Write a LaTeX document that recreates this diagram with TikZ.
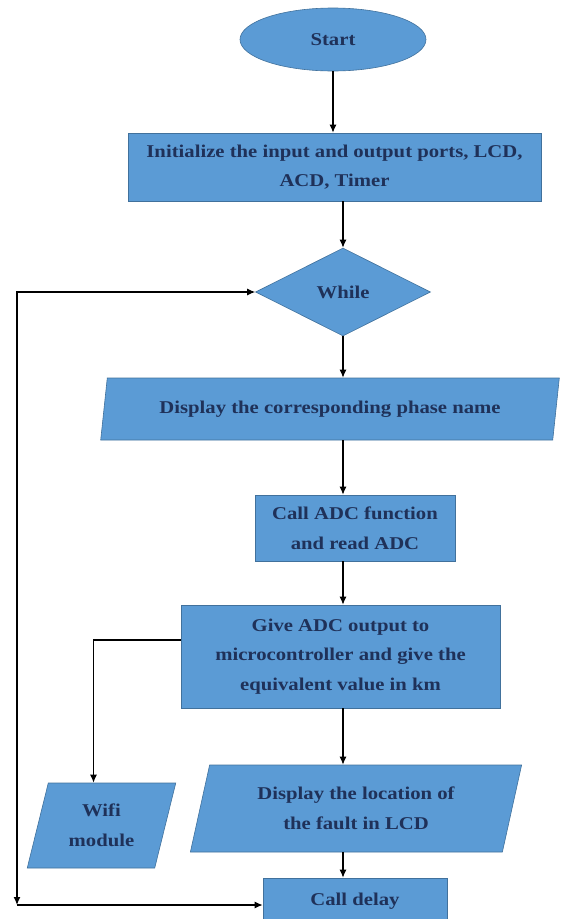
\documentclass[tikz,border=0pt]{standalone}
\usepackage{fontspec}
\setmainfont{Liberation Serif}[FakeStretch=1.15]
\usepackage{tikz}
\usetikzlibrary{shapes.geometric,arrows.meta}
\definecolor{boxblue}{HTML}{5B9BD5}
\definecolor{boxedge}{HTML}{41719C}
\definecolor{boxtext}{HTML}{1F3159}

\begin{document}
\begin{tikzpicture}[x=1pt,y=-1pt,>={Latex[length=8pt,width=7pt]},
  every node/.style={fill=boxblue,draw=boxedge,line width=0.6pt,inner sep=0pt,
    text=boxtext,align=center,font=\fontsize{18}{29.5}\selectfont\bfseries},
  terminal/.style={ellipse,minimum width=186pt,minimum height=63pt},
  process/.style={rectangle},
  decision/.style={diamond,minimum width=175pt,minimum height=88pt},
  io/.style={trapezium,trapezium left angle=73,trapezium right angle=107,
    trapezium stretches=true},
  flow/.style={->,line width=1.2pt}]
  \useasboundingbox (0,0) rectangle (570,919);

  \node[terminal](start) at (333,39.5){Start};
  \node[process,minimum width=413pt,minimum height=68pt](init) at (334.5,167)
    {Initialize the input and output ports, LCD,\\ACD, Timer};
  \node[decision](while) at (343,292){While};
  \node[io,minimum width=460pt,minimum height=62pt](phase) at (330,409)
    {Display the corresponding phase name};
  \node[process,minimum width=200pt,minimum height=66pt](readadc) at (355,528)
    {Call ADC function\\and read ADC};
  \node[process,minimum width=319pt,minimum height=103pt](convert) at (340.5,656.5)
    {Give ADC output to\\microcontroller and give the\\equivalent value in km};
  \node[io,minimum width=332pt,minimum height=87pt](showfault) at (356,808.5)
    {Display the location of\\the fault in LCD};
  \node[io,minimum width=149pt,minimum height=85pt](wifi) at (101.5,825.5)
    {Wifi\\module};
  \node[process,minimum width=184pt,minimum height=46pt](delay) at (355,901)
    {Call delay};
  \coordinate (spine) at (343,0);
  \coordinate (loopcorner) at (17,905);

  \path[flow]
  (start) edge (start |- init.north)
  (init.south -| spine) edge (while.north)
  (while.south) edge (while.south |- phase.north)
  (phase.south -| spine) edge (readadc.north -| spine)
  (readadc.south -| spine) edge (convert.north -| spine)
  (convert.south -| spine) edge (showfault.north -| spine)
  (showfault.south -| spine) edge (delay.north -| spine);
  \draw[flow] ([yshift=16.5pt]convert.west) -| ([xshift=-8pt]wifi.north);
  \draw[flow,<->] (loopcorner) |- (while.west);
  \draw[flow] (loopcorner) -- (delay.west |- loopcorner);
\end{tikzpicture}
\end{document}
